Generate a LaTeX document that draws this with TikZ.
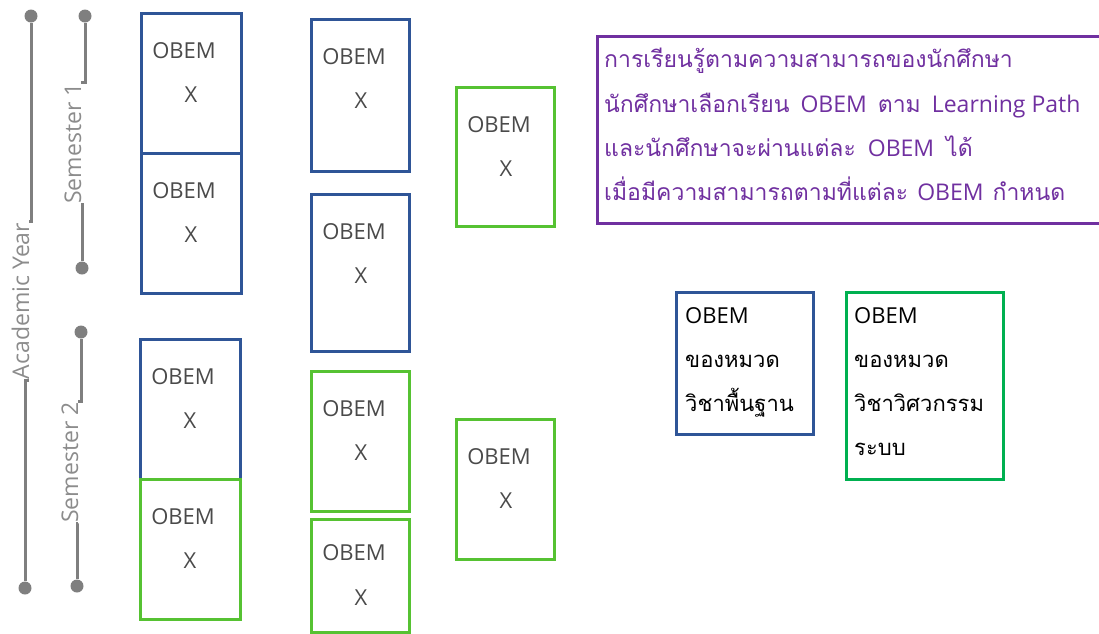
\documentclass[tikz,border=0pt]{standalone}
\usepackage{fontspec}
\setmainfont{Open Sans}
\newfontfamily\thai[Script=Thai]{Loma}
\usetikzlibrary{calc}
\definecolor{oblue}{HTML}{2F5597}
\definecolor{ogreen}{HTML}{56C232}
\definecolor{lgreen}{HTML}{00B050}
\definecolor{opurple}{HTML}{7030A0}
\definecolor{tgray}{HTML}{7F7F7F}
\definecolor{tlgray}{HTML}{8C8C8C}
\definecolor{dtext}{HTML}{4A4A4A}
\newcommand{\gap}[1]{\hspace{#1pt}}
\begin{document}
\begin{tikzpicture}[x=1pt,y=-1pt,
  obox/.style={draw=#1, line width=3pt, anchor=north west, inner sep=0pt},
  btxt/.style={text=dtext, inner sep=0pt, font=\fontsize{22}{26}\selectfont},
  tltxt/.style={text=tlgray, rotate=90, anchor=base, inner sep=1pt, font=\fontsize{23}{27}\selectfont},
  tlline/.style={draw=tgray, line width=3pt},
  dot/.style={circle, fill=tgray, inner sep=0pt, minimum size=13pt},
  ptxt/.style={text=opurple, anchor=base west, inner sep=0pt, font=\fontsize{23}{27}\selectfont},
  ltxt/.style={text=black, anchor=base west, inner sep=0pt, font=\fontsize{22}{26}\selectfont}]
\useasboundingbox (0,0) rectangle (1099,633);

% timeline
\node[dot] (ayT) at (31,16) {};
\node[dot] (ayB) at (25,588) {};
\node[tltxt] (ay) at (29,301) {Academic Year};
\draw[tlline] (ayT) |- (ay.base east);
\draw[tlline] (ay.base west) -| (ayB);

\node[dot] (s1T) at (85,16) {};
\node[dot] (s1B) at (82,268) {};
\node[tltxt] (s1) at (81,143.5) {Semester 1};
\draw[tlline] (s1T) |- (s1.base east);
\draw[tlline] (s1.base west) -| (s1B);

\node[dot] (s2T) at (81,332) {};
\node[dot] (s2B) at (77,586) {};
\node[tltxt] (s2) at (78,462.5) {Semester 2};
\draw[tlline] (s2T) |- (s2.base east);
\draw[tlline] (s2.base west) -| (s2B);

% OBEM boxes
\node[obox=oblue, minimum width=100pt, minimum height=140pt] (b1) at (140,12) {};
\node[obox=oblue, minimum width=100pt, minimum height=140pt] (b2) at (140,152) {};
\node[obox=oblue, minimum width=100pt, minimum height=140pt] (b3) at (139,338) {};
\node[obox=ogreen, minimum width=100pt, minimum height=140pt] (b4) at (139,478) {};
\node[obox=oblue, minimum width=98pt, minimum height=152pt] (b5) at (310,18) {};
\node[obox=oblue, minimum width=98pt, minimum height=157pt] (b6) at (310,193) {};
\node[obox=ogreen, minimum width=98pt, minimum height=140pt] (b7) at (310,370) {};
\node[obox=ogreen, minimum width=98pt, minimum height=113pt] (b8) at (310,518) {};
\node[obox=ogreen, minimum width=98pt, minimum height=139pt] (b9) at (455,86) {};
\node[obox=ogreen, minimum width=98pt, minimum height=140pt] (b10) at (455,418) {};

\foreach \b in {b1,b2,b3,b4,b5,b6,b7,b9,b10}{
  \node[btxt] (\b o) at ($(\b.north west)+(44,39)$) {OBEM};
  \node[btxt] (\b x) at ($(\b.north west)+(51,83)$) {X};
}
\node[btxt] (b8o) at ($(b8.north west)+(44,35)$) {OBEM};
\node[btxt] (b8x) at ($(b8.north west)+(51,80)$) {X};

% purple box
\node[obox=opurple, minimum width=503pt, minimum height=187pt] (pb) at (596,35) {};
\node[ptxt] (p1) at (604,67) {\thai การเรียนรู้ตามความสามารถของนักศึกษา};
\node[ptxt] (p2) at (604,112) {{\thai นักศึกษาเลือกเรียน}\gap{5} OBEM\gap{5} {\thai ตาม}\gap{5} Learning Path};
\node[ptxt] (p3) at (604,156) {{\thai และนักศึกษาจะผ่านแต่ละ}\gap{6} OBEM\gap{6} {\thai ได้}};
\node[ptxt] (p4) at (604,200) {{\thai เมื่อมีความสามารถตามที่แต่ละ}\gap{3} OBEM\gap{3} {\thai กำหนด}};

% legend
\node[obox=oblue, minimum width=137pt, minimum height=142pt] (lb1) at (675,291) {};
\node[ltxt] (l1a) at (685,323) {OBEM};
\node[ltxt] (l1b) at (685,367) {\thai ของหมวด};
\node[ltxt] (l1c) at (685,411) {\thai วิชาพื้นฐาน};

\node[obox=lgreen, minimum width=157pt, minimum height=187pt] (lb2) at (845,291) {};
\node[ltxt] (l2a) at (854,323) {OBEM};
\node[ltxt] (l2b) at (854,367) {\thai ของหมวด};
\node[ltxt] (l2c) at (854,411) {\thai วิชาวิศวกรรม};
\node[ltxt] (l2d) at (854,455) {\thai ระบบ};
\end{tikzpicture}
\end{document}
